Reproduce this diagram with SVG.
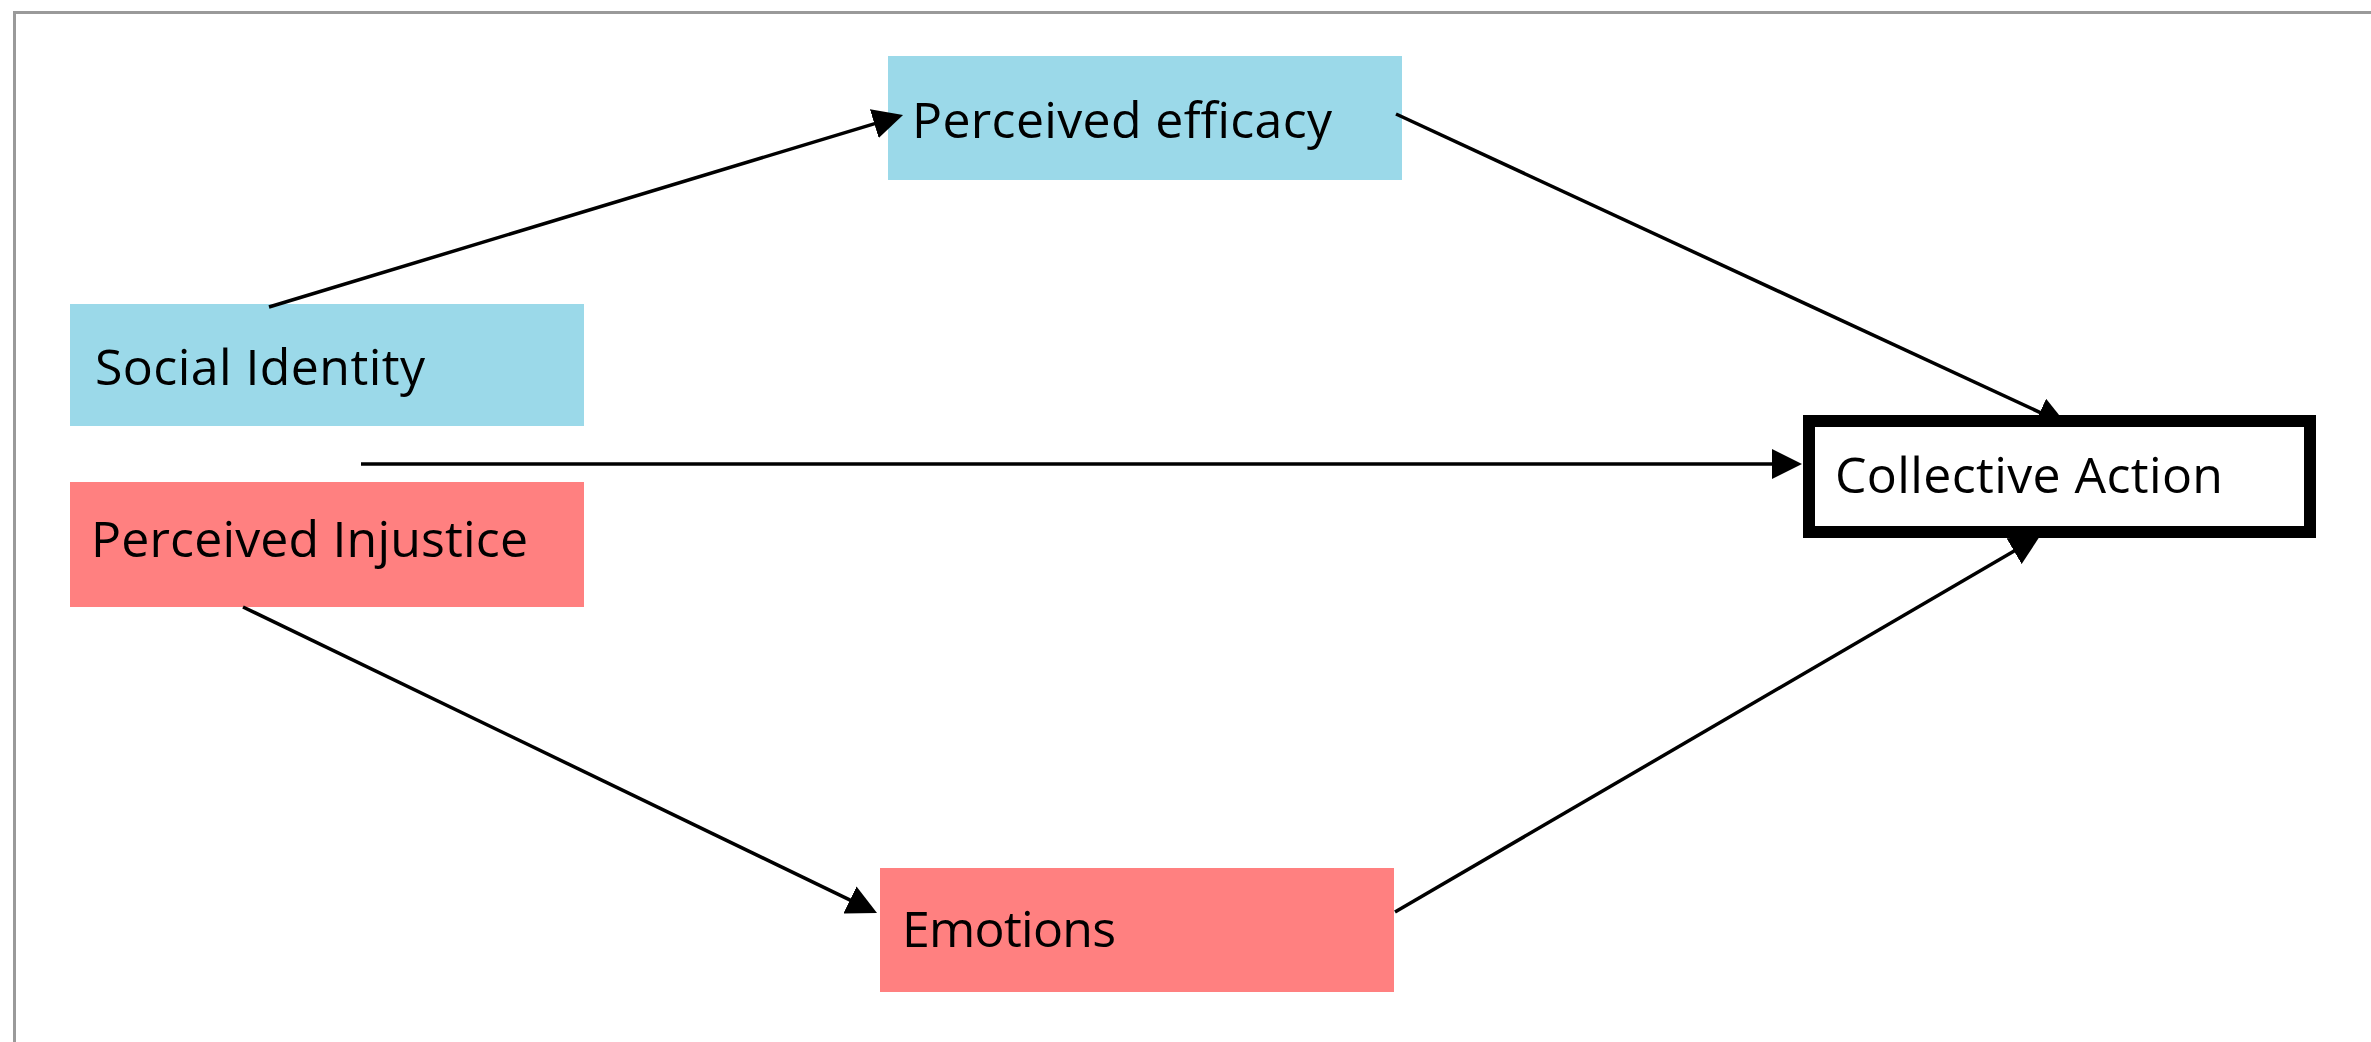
<svg xmlns="http://www.w3.org/2000/svg" width="2371" height="1042" viewBox="0 0 2371 1042">
  <style>
    .lbl { font-family: "Open Sans", "Noto Sans", "Liberation Sans", sans-serif; font-size: 50px; fill: #000; }
    .blue { fill: #9bd9e9; }
    .red { fill: #ff8080; }
    .conn { stroke: #000; stroke-width: 3.5; fill: none; marker-end: url(#arrow); }
  </style>
  <defs>
    <marker id="arrow" markerUnits="userSpaceOnUse" markerWidth="30" markerHeight="30" refX="10" refY="15" orient="auto">
      <path d="M0,0 L30,15 L0,30 Z" fill="#000"/>
    </marker>
  </defs>
  <rect x="0" y="0" width="2371" height="1042" fill="#fff"/>
  <path d="M14.5,1042 V12.5 H2371" fill="none" stroke="#9a9a9a" stroke-width="3"/>

  <g id="node-perceived-efficacy">
    <rect class="blue" x="888" y="56" width="514" height="124"/>
    <text class="lbl" x="912" y="138" textLength="420">Perceived efficacy</text>
  </g>
  <g id="node-social-identity">
    <rect class="blue" x="70" y="304" width="514" height="122"/>
    <text class="lbl" x="95" y="385" textLength="330">Social Identity</text>
  </g>
  <g id="node-perceived-injustice">
    <rect class="red" x="70" y="482" width="514" height="125"/>
    <text class="lbl" x="91" y="557" textLength="437">Perceived Injustice</text>
  </g>
  <g id="node-emotions">
    <rect class="red" x="880" y="868" width="514" height="124"/>
    <text class="lbl" x="902" y="947" textLength="214">Emotions</text>
  </g>

  <g id="connectors">
    <line class="conn" x1="269" y1="307" x2="883.9" y2="120.8"/>
    <line class="conn" x1="361" y1="464" x2="1782" y2="464"/>
    <line class="conn" x1="1396" y1="114" x2="2048.9" y2="416.6"/>
    <line class="conn" x1="243" y1="607" x2="859" y2="904.3"/>
    <line class="conn" x1="1395" y1="912" x2="2022.7" y2="546.1"/>
  </g>

  <g id="node-collective-action">
    <rect x="1809" y="421" width="501" height="111" fill="#fff" stroke="#000" stroke-width="12"/>
    <text class="lbl" x="1835" y="493" textLength="388">Collective Action</text>
  </g>
</svg>
